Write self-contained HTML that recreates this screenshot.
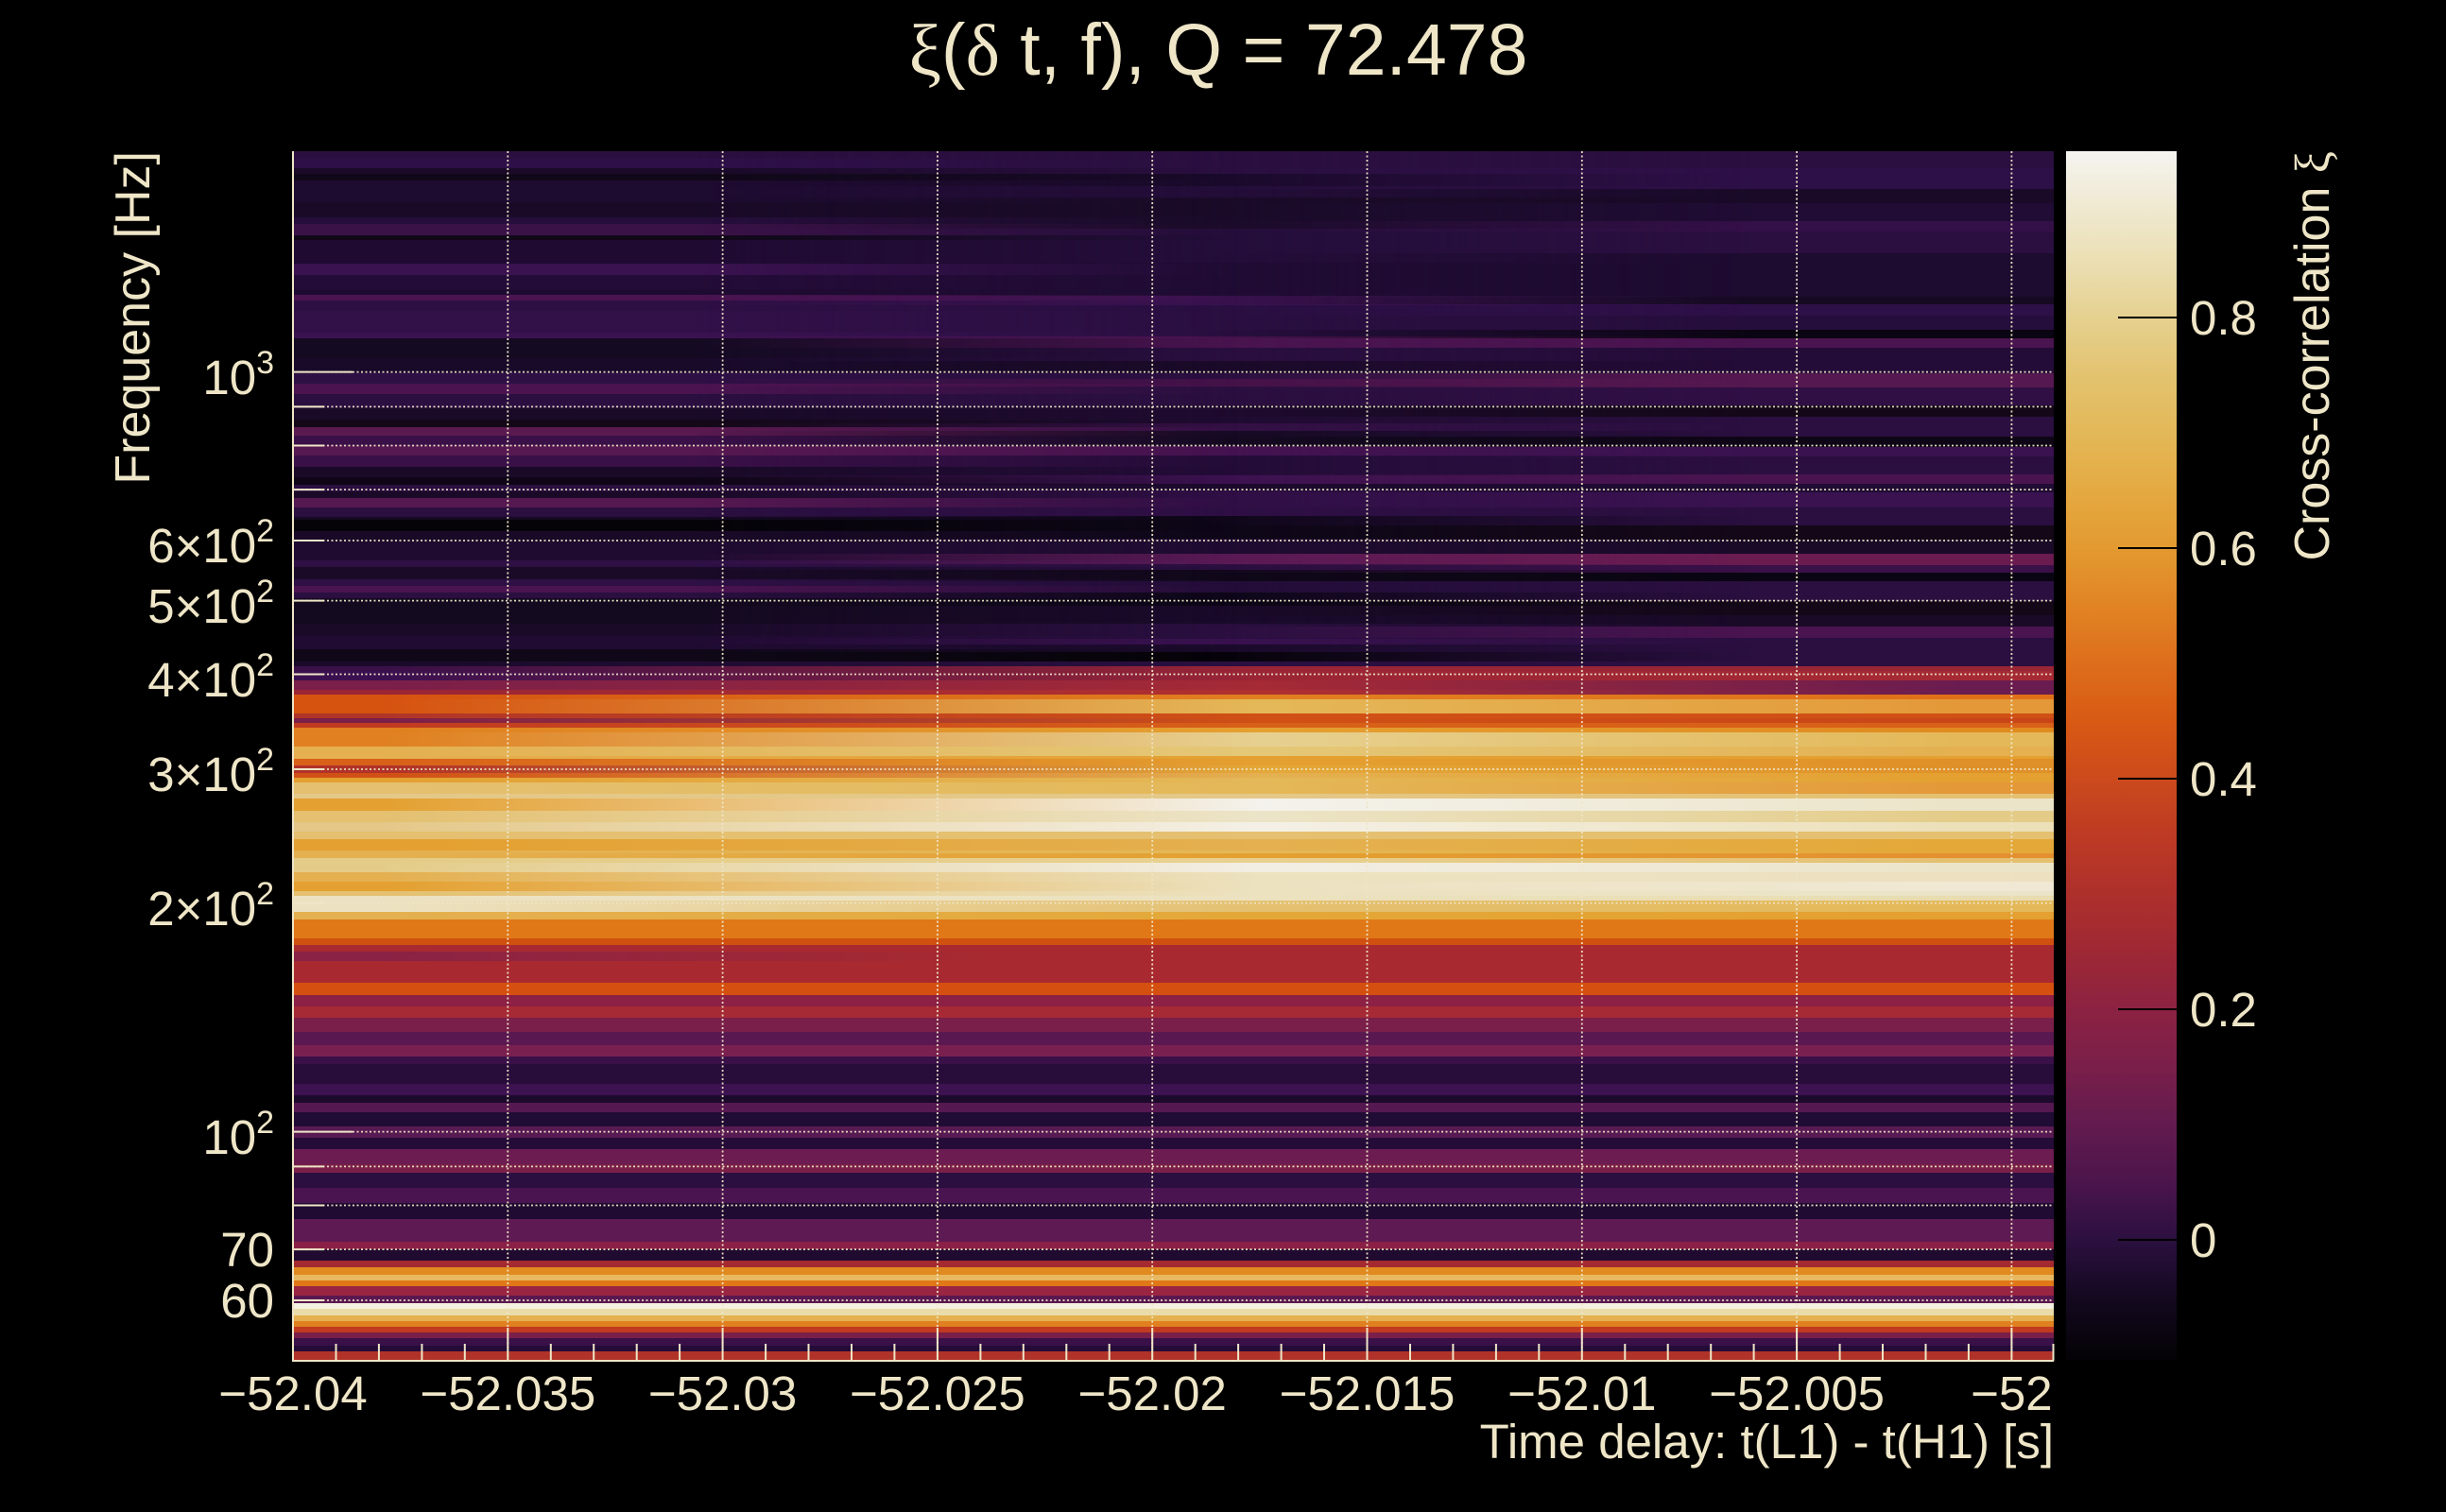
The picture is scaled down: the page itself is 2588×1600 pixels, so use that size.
<!DOCTYPE html>
<html><head><meta charset="utf-8">
<style>
html,body{margin:0;padding:0;background:#000;}
body{width:2588px;height:1600px;position:relative;overflow:hidden;}
#hm{position:absolute;left:310px;top:160px;width:1863px;height:1280px;overflow:hidden;background:#1a0a28;}
#hm i{position:absolute;display:block;left:0;width:100%;}
.col{position:absolute;top:0;height:540px;overflow:hidden;}
#cL{left:0;width:1000px;-webkit-mask-image:linear-gradient(90deg,#000 0px,#000 420px,transparent 1000px);mask-image:linear-gradient(90deg,#000 0px,#000 420px,transparent 1000px);}
#cM{left:0;width:1863px;}
#cR{left:950px;width:913px;-webkit-mask-image:linear-gradient(90deg,transparent 0px,#000 600px);mask-image:linear-gradient(90deg,transparent 0px,#000 600px);}
svg{position:absolute;left:0;top:0;}
</style></head><body>
<div id="hm">
<div class="col" id="cM">
<i style="top:0px;height:24px;background:#2a0f40"></i>
<i style="top:24px;height:13px;background:#1a0a2a"></i>
<i style="top:37px;height:12px;background:#240e3a"></i>
<i style="top:49px;height:33px;background:#1a0b28"></i>
<i style="top:82px;height:36px;background:#240e3a"></i>
<i style="top:118px;height:35px;background:#200c34"></i>
<i style="top:153px;height:10px;background:#3b1250"></i>
<i style="top:163px;height:33px;background:#2a0f42"></i>
<i style="top:196px;height:12px;background:#4a1450"></i>
<i style="top:208px;height:14px;background:#2a0f40"></i>
<i style="top:222px;height:13px;background:#1a0a28"></i>
<i style="top:235px;height:6px;background:#2a0f40"></i>
<i style="top:241px;height:8px;background:#441248"></i>
<i style="top:249px;height:20px;background:#2a0f3f"></i>
<i style="top:269px;height:19px;background:#1f0b30"></i>
<i style="top:288px;height:8px;background:#341045"></i>
<i style="top:296px;height:16px;background:#150a22"></i>
<i style="top:312px;height:10px;background:#451350"></i>
<i style="top:322px;height:21px;background:#240c38"></i>
<i style="top:343px;height:9px;background:#3c1250"></i>
<i style="top:352px;height:7px;background:#1c0a2c"></i>
<i style="top:359px;height:27px;background:#2f0f45"></i>
<i style="top:386px;height:24px;background:#0e0718"></i>
<i style="top:410px;height:16px;background:#200c32"></i>
<i style="top:426px;height:11px;background:#5a1a55"></i>
<i style="top:437px;height:6px;background:#2a0f40"></i>
<i style="top:443px;height:12px;background:#10081a"></i>
<i style="top:455px;height:12px;background:#230d38"></i>
<i style="top:467px;height:14px;background:#0c0616"></i>
<i style="top:481px;height:19px;background:#1a0a2a"></i>
<i style="top:500px;height:16px;background:#2a0f40"></i>
<i style="top:516px;height:6px;background:#3a1250"></i>
<i style="top:522px;height:8px;background:#1a0a2a"></i>
<i style="top:530px;height:10px;background:#050308"></i>
</div>
<div class="col" id="cL">
<i style="top:0px;height:8px;background:#2a0f40"></i>
<i style="top:8px;height:10px;background:#2e1048"></i>
<i style="top:18px;height:6px;background:#1a0a28"></i>
<i style="top:24px;height:7px;background:#100818"></i>
<i style="top:31px;height:23px;background:#1e0b30"></i>
<i style="top:54px;height:16px;background:#1a0a28"></i>
<i style="top:70px;height:7px;background:#260e3c"></i>
<i style="top:77px;height:12px;background:#3a1248"></i>
<i style="top:89px;height:5px;background:#100818"></i>
<i style="top:94px;height:25px;background:#1f0b32"></i>
<i style="top:119px;height:12px;background:#3a1250"></i>
<i style="top:131px;height:15px;background:#240c38"></i>
<i style="top:146px;height:6px;background:#1f0b32"></i>
<i style="top:152px;height:6px;background:#4a1450"></i>
<i style="top:158px;height:11px;background:#2e0f44"></i>
<i style="top:169px;height:23px;background:#321048"></i>
<i style="top:192px;height:6px;background:#3a1250"></i>
<i style="top:198px;height:21px;background:#140a22"></i>
<i style="top:219px;height:15px;background:#1a0a2a"></i>
<i style="top:234px;height:12px;background:#2e1045"></i>
<i style="top:246px;height:11px;background:#4a1450"></i>
<i style="top:257px;height:15px;background:#2a0f40"></i>
<i style="top:272px;height:12px;background:#1a0a28"></i>
<i style="top:284px;height:8px;background:#140818"></i>
<i style="top:292px;height:9px;background:#5a1a50"></i>
<i style="top:301px;height:10px;background:#3a1048"></i>
<i style="top:311px;height:11px;background:#561850"></i>
<i style="top:322px;height:12px;background:#3a1048"></i>
<i style="top:334px;height:11px;background:#1a0a28"></i>
<i style="top:345px;height:8px;background:#0e0616"></i>
<i style="top:353px;height:7px;background:#2a0f40"></i>
<i style="top:360px;height:7px;background:#1a0a28"></i>
<i style="top:367px;height:10px;background:#561850"></i>
<i style="top:377px;height:10px;background:#2a0f40"></i>
<i style="top:387px;height:3px;background:#150a22"></i>
<i style="top:390px;height:12px;background:#050308"></i>
<i style="top:402px;height:10px;background:#1a0a28"></i>
<i style="top:412px;height:21px;background:#1f0b30"></i>
<i style="top:433px;height:7px;background:#2e1045"></i>
<i style="top:440px;height:13px;background:#1a0a28"></i>
<i style="top:453px;height:7px;background:#2e1045"></i>
<i style="top:460px;height:7px;background:#4a1450"></i>
<i style="top:467px;height:6px;background:#2a0f40"></i>
<i style="top:473px;height:27px;background:#140a20"></i>
<i style="top:500px;height:13px;background:#1a0a28"></i>
<i style="top:513px;height:14px;background:#200b32"></i>
<i style="top:527px;height:13px;background:#100818"></i>
</div>
<div class="col" id="cR">
<i style="top:0px;height:18px;background:#2a0f40"></i>
<i style="top:18px;height:22px;background:#2e1048"></i>
<i style="top:40px;height:15px;background:#1a0a28"></i>
<i style="top:55px;height:19px;background:#200c34"></i>
<i style="top:74px;height:11px;background:#341048"></i>
<i style="top:85px;height:23px;background:#2a0f40"></i>
<i style="top:108px;height:46px;background:#1e0b30"></i>
<i style="top:154px;height:8px;background:#150a22"></i>
<i style="top:162px;height:12px;background:#2e1048"></i>
<i style="top:174px;height:15px;background:#260e3c"></i>
<i style="top:189px;height:9px;background:#0a0512"></i>
<i style="top:198px;height:10px;background:#4a1450"></i>
<i style="top:208px;height:27px;background:#240c38"></i>
<i style="top:235px;height:15px;background:#561850"></i>
<i style="top:250px;height:19px;background:#300f45"></i>
<i style="top:269px;height:12px;background:#140818"></i>
<i style="top:281px;height:21px;background:#2a0f40"></i>
<i style="top:302px;height:11px;background:#0e0616"></i>
<i style="top:313px;height:10px;background:#3a1250"></i>
<i style="top:323px;height:19px;background:#2a0f40"></i>
<i style="top:342px;height:10px;background:#4a1450"></i>
<i style="top:352px;height:9px;background:#200c34"></i>
<i style="top:361px;height:16px;background:#3a1250"></i>
<i style="top:377px;height:19px;background:#2a0f40"></i>
<i style="top:396px;height:15px;background:#140818"></i>
<i style="top:411px;height:15px;background:#1a0a28"></i>
<i style="top:426px;height:12px;background:#6a1c50"></i>
<i style="top:438px;height:8px;background:#3a1048"></i>
<i style="top:446px;height:9px;background:#0a0512"></i>
<i style="top:455px;height:21px;background:#2a0f40"></i>
<i style="top:476px;height:15px;background:#140818"></i>
<i style="top:491px;height:12px;background:#1a0a28"></i>
<i style="top:503px;height:12px;background:#4a1450"></i>
<i style="top:515px;height:25px;background:#2a0f40"></i>
</div>
<i style="top:540px;height:5px;background:linear-gradient(90deg,#1a0a2a 5%,#2a0f40 55%,#2a0f40 95%)"></i>
<i style="top:545px;height:5px;background:linear-gradient(90deg,#3a1048 5%,#9a2535 55%,#9a2535 95%)"></i>
<i style="top:550px;height:10px;background:linear-gradient(90deg,#3a1050 5%,#9a2535 55%,#a52a35 95%)"></i>
<i style="top:560px;height:10px;background:linear-gradient(90deg,#7a1f4a 5%,#a52a35 55%,#6a1c50 95%)"></i>
<i style="top:570px;height:5px;background:linear-gradient(90deg,#9a2535 5%,#b03030 55%,#6a1c50 95%)"></i>
<i style="top:575px;height:5px;background:linear-gradient(90deg,#d5520f 5%,#e08020 55%,#e07018 95%)"></i>
<i style="top:580px;height:15px;background:linear-gradient(90deg,#d5520f 5%,#e4b858 55%,#e49838 95%)"></i>
<i style="top:595px;height:5px;background:linear-gradient(90deg,#b03528 5%,#d05015 55%,#d05015 95%)"></i>
<i style="top:600px;height:5px;background:linear-gradient(90deg,#7a1f4a 5%,#d05015 55%,#c84518 95%)"></i>
<i style="top:605px;height:5px;background:linear-gradient(90deg,#c03a20 5%,#d86018 55%,#d86018 95%)"></i>
<i style="top:610px;height:5px;background:linear-gradient(90deg,#e08020 5%,#e4a030 55%,#e08a20 95%)"></i>
<i style="top:615px;height:15px;background:linear-gradient(90deg,#e08020 5%,#e6d090 55%,#e4b858 95%)"></i>
<i style="top:630px;height:10px;background:linear-gradient(90deg,#e4b050 5%,#e4c878 55%,#e4b050 95%)"></i>
<i style="top:640px;height:3px;background:linear-gradient(90deg,#e4b050 5%,#e4a030 55%,#e4a030 95%)"></i>
<i style="top:643px;height:7px;background:linear-gradient(90deg,#d86018 5%,#e4a030 55%,#e09028 95%)"></i>
<i style="top:650px;height:8px;background:linear-gradient(90deg,#b03228 5%,#e4a838 55%,#e09028 95%)"></i>
<i style="top:658px;height:5px;background:linear-gradient(90deg,#d05015 5%,#e4b050 55%,#e4a030 95%)"></i>
<i style="top:663px;height:5px;background:linear-gradient(90deg,#e4a030 5%,#e4b858 55%,#e4a030 95%)"></i>
<i style="top:668px;height:12px;background:linear-gradient(90deg,#e4c070 5%,#e4b858 55%,#e49838 95%)"></i>
<i style="top:680px;height:5px;background:linear-gradient(90deg,#e4c888 5%,#e4c888 55%,#e4c070 95%)"></i>
<i style="top:685px;height:13px;background:linear-gradient(90deg,#e4a030 5%,#f4f2ec 55%,#ece4c8 95%)"></i>
<i style="top:698px;height:12px;background:linear-gradient(90deg,#e4c070 5%,#ece4c8 55%,#e4cc88 95%)"></i>
<i style="top:710px;height:10px;background:linear-gradient(90deg,#e4c888 5%,#f4f0e6 55%,#ece0b8 95%)"></i>
<i style="top:720px;height:8px;background:#e4c070"></i>
<i style="top:728px;height:12px;background:linear-gradient(90deg,#e4a030 5%,#e4b050 55%,#e4a838 95%)"></i>
<i style="top:740px;height:3px;background:linear-gradient(90deg,#e4b050 5%,#e4b858 55%,#e4a838 95%)"></i>
<i style="top:743px;height:5px;background:linear-gradient(90deg,#e4b050 5%,#e4a030 55%,#e49030 95%)"></i>
<i style="top:748px;height:5px;background:linear-gradient(90deg,#e4cc88 5%,#e8d090 55%,#e4c070 95%)"></i>
<i style="top:753px;height:10px;background:linear-gradient(90deg,#e4cc88 5%,#f2eee4 55%,#ece4c8 95%)"></i>
<i style="top:763px;height:10px;background:linear-gradient(90deg,#e4b050 5%,#ece2c0 55%,#ece0c0 95%)"></i>
<i style="top:773px;height:10px;background:linear-gradient(90deg,#e4a030 5%,#ece2c0 55%,#f0e8d4 95%)"></i>
<i style="top:783px;height:5px;background:linear-gradient(90deg,#e4c070 5%,#ece2c0 55%,#ece4c8 95%)"></i>
<i style="top:788px;height:5px;background:linear-gradient(90deg,#ece2c2 5%,#ece2c0 55%,#e8dcb0 95%)"></i>
<i style="top:793px;height:12px;background:linear-gradient(90deg,#ece2c2 5%,#e4c070 55%,#e4b858 95%)"></i>
<i style="top:805px;height:8px;background:linear-gradient(90deg,#e4b050 5%,#e4a838 55%,#e4a030 95%)"></i>
<i style="top:813px;height:20px;background:#e07818"></i>
<i style="top:833px;height:7px;background:#d05010"></i>
<i style="top:840px;height:40px;background:#a82a30"></i>
<i style="top:847px;height:10px;background:linear-gradient(90deg,#8a2245 5%,#a82a30 40%,#a82a30 95%)"></i>
<i style="top:880px;height:13px;background:#d55010"></i>
<i style="top:893px;height:12px;background:#8c2045"></i>
<i style="top:905px;height:12px;background:#a52a35"></i>
<i style="top:917px;height:15px;background:#7a1f4a"></i>
<i style="top:932px;height:14px;background:#5a1850"></i>
<i style="top:946px;height:12px;background:#7a2050"></i>
<i style="top:958px;height:8px;background:#3a1048"></i>
<i style="top:966px;height:21px;background:#280c3a"></i>
<i style="top:987px;height:12px;background:#3d1250"></i>
<i style="top:999px;height:8px;background:#1c0a2c"></i>
<i style="top:1007px;height:10px;background:#561850"></i>
<i style="top:1017px;height:15px;background:#200c34"></i>
<i style="top:1032px;height:12px;background:#581a52"></i>
<i style="top:1044px;height:12px;background:#250c38"></i>
<i style="top:1056px;height:16px;background:#6c1c50"></i>
<i style="top:1072px;height:9px;background:#7a2048"></i>
<i style="top:1081px;height:16px;background:#2a0f40"></i>
<i style="top:1097px;height:16px;background:#4a1450"></i>
<i style="top:1113px;height:17px;background:#200b32"></i>
<i style="top:1130px;height:24px;background:#5e1a52"></i>
<i style="top:1154px;height:8px;background:#8a2045"></i>
<i style="top:1162px;height:12px;background:#200a30"></i>
<i style="top:1174px;height:7px;background:#a52a30"></i>
<i style="top:1181px;height:8px;background:#e08a20"></i>
<i style="top:1189px;height:6px;background:#e8b860"></i>
<i style="top:1195px;height:6px;background:#e07818"></i>
<i style="top:1201px;height:10px;background:#9a2542"></i>
<i style="top:1211px;height:8px;background:#5a1850"></i>
<i style="top:1219px;height:6px;background:#f5f0e0"></i>
<i style="top:1225px;height:7px;background:#eadcaa"></i>
<i style="top:1232px;height:6px;background:#e4b050"></i>
<i style="top:1238px;height:6px;background:#e08020"></i>
<i style="top:1244px;height:6px;background:#c03a20"></i>
<i style="top:1250px;height:6px;background:#7a1f4a"></i>
<i style="top:1256px;height:8px;background:#3a1048"></i>
<i style="top:1264px;height:6px;background:#250c38"></i>
<i style="top:1270px;height:10px;background:#b03228"></i>
</div>

<svg width="2588" height="1600" viewBox="0 0 2588 1600" xmlns="http://www.w3.org/2000/svg" font-family="'Liberation Sans', sans-serif" fill="#efe6c8">
<defs>
<linearGradient id="cb" x1="0" y1="0" x2="0" y2="1">
<stop offset="0" stop-color="#f5f4f0"/>
<stop offset="0.042" stop-color="#f0ead4"/>
<stop offset="0.09" stop-color="#ebdfb4"/>
<stop offset="0.137" stop-color="#e5d190"/>
<stop offset="0.185" stop-color="#e3c370"/>
<stop offset="0.233" stop-color="#e3b858"/>
<stop offset="0.28" stop-color="#e4aa42"/>
<stop offset="0.328" stop-color="#e39a30"/>
<stop offset="0.376" stop-color="#e18424"/>
<stop offset="0.424" stop-color="#dd6e1c"/>
<stop offset="0.471" stop-color="#d85a14"/>
<stop offset="0.519" stop-color="#cc4a1c"/>
<stop offset="0.567" stop-color="#bd3a24"/>
<stop offset="0.614" stop-color="#ae302b"/>
<stop offset="0.662" stop-color="#9e2834"/>
<stop offset="0.71" stop-color="#8c2242"/>
<stop offset="0.757" stop-color="#7a1f4a"/>
<stop offset="0.805" stop-color="#631b4e"/>
<stop offset="0.853" stop-color="#4b154c"/>
<stop offset="0.9" stop-color="#2c1040"/>
<stop offset="0.948" stop-color="#140920"/>
<stop offset="1" stop-color="#040205"/>
</linearGradient>
</defs>

<!-- grid -->
<g stroke="#efe6c8" stroke-width="1.8" stroke-dasharray="2 2.5" fill="none" opacity="0.95">
<path d="M537.3 160V1440M764.6 160V1440M991.9 160V1440M1219.2 160V1440M1446.5 160V1440M1673.8 160V1440M1901.1 160V1440M2128.4 160V1440"/>
<path d="M310 393.6H2173M310 430.4H2173M310 471.5H2173M310 518.1H2173M310 572H2173M310 635.6H2173M310 713.5H2173M310 814H2173M310 955.6H2173M310 1197.6H2173M310 1234.4H2173M310 1275.5H2173M310 1322.1H2173M310 1376H2173"/>
</g>

<!-- axes and ticks -->
<g stroke="#efe6c8" stroke-width="2" fill="none">
<path d="M310 160V1441M309 1440H2173"/>
<path d="M310 1440V1405M537.3 1440V1405M764.6 1440V1405M991.9 1440V1405M1219.2 1440V1405M1446.5 1440V1405M1673.8 1440V1405M1901.1 1440V1405M2128.4 1440V1405"/>
<path d="M355.5 1440V1422M400.9 1440V1422M446.4 1440V1422M491.8 1440V1422M582.8 1440V1422M628.2 1440V1422M673.7 1440V1422M719.1 1440V1422M810.1 1440V1422M855.5 1440V1422M901 1440V1422M946.4 1440V1422M1037.4 1440V1422M1082.8 1440V1422M1128.3 1440V1422M1173.7 1440V1422M1264.7 1440V1422M1310.1 1440V1422M1355.6 1440V1422M1401 1440V1422M1492 1440V1422M1537.4 1440V1422M1582.9 1440V1422M1628.3 1440V1422M1719.3 1440V1422M1764.7 1440V1422M1810.2 1440V1422M1855.6 1440V1422M1946.6 1440V1422M1992 1440V1422M2037.5 1440V1422M2082.9 1440V1422M2172.5 1440V1422"/>
<path d="M310 393.6H373M310 1197.6H373"/>
<path d="M310 430.4H343M310 471.5H343M310 518.1H343M310 572H343M310 635.6H343M310 713.5H343M310 814H343M310 955.6H343M310 1234.4H343M310 1275.5H343M310 1322.1H343M310 1376H343"/>
</g>

<!-- colorbar -->
<rect x="2186" y="160" width="117" height="1279" fill="url(#cb)"/>
<g stroke="#000" stroke-width="2">
<path d="M2241 336H2303M2241 580H2303M2241 824H2303M2241 1068H2303M2241 1312H2303"/>
</g>
<g font-size="51">
<text x="2317" y="354">0.8</text>
<text x="2317" y="598">0.6</text>
<text x="2317" y="842">0.4</text>
<text x="2317" y="1086">0.2</text>
<text x="2317" y="1330">0</text>
</g>

<!-- title -->
<text x="1289" y="79" text-anchor="middle" font-size="77"><tspan font-family="'Liberation Serif', serif">ξ</tspan>(<tspan font-family="'Liberation Serif', serif">δ</tspan> t, f), Q = 72.478</text>

<!-- y tick labels -->
<g font-size="51" text-anchor="end">
<text x="290" y="417">10<tspan font-size="34" dy="-22">3</tspan></text>
<text x="290" y="595">6×10<tspan font-size="34" dy="-22">2</tspan></text>
<text x="290" y="659">5×10<tspan font-size="34" dy="-22">2</tspan></text>
<text x="290" y="737">4×10<tspan font-size="34" dy="-22">2</tspan></text>
<text x="290" y="837">3×10<tspan font-size="34" dy="-22">2</tspan></text>
<text x="290" y="979">2×10<tspan font-size="34" dy="-22">2</tspan></text>
<text x="290" y="1221">10<tspan font-size="34" dy="-22">2</tspan></text>
<text x="290" y="1340">70</text>
<text x="290" y="1394">60</text>
</g>

<!-- x tick labels -->
<g font-size="51" text-anchor="middle">
<text x="310" y="1492">−52.04</text>
<text x="537.3" y="1492">−52.035</text>
<text x="764.6" y="1492">−52.03</text>
<text x="991.9" y="1492">−52.025</text>
<text x="1219.2" y="1492">−52.02</text>
<text x="1446.5" y="1492">−52.015</text>
<text x="1673.8" y="1492">−52.01</text>
<text x="1901.1" y="1492">−52.005</text>
<text x="2128.4" y="1492">−52</text>
</g>

<!-- axis titles -->
<text x="2173" y="1543" text-anchor="end" font-size="51">Time delay: t(L1) - t(H1) [s]</text>
<text transform="translate(158,160) rotate(-90)" text-anchor="end" font-size="52">Frequency [Hz]</text>
<text transform="translate(2464,160) rotate(-90)" text-anchor="end" font-size="52">Cross-correlation <tspan font-family="'Liberation Serif', serif">ξ</tspan></text>
</svg>
</body></html>
